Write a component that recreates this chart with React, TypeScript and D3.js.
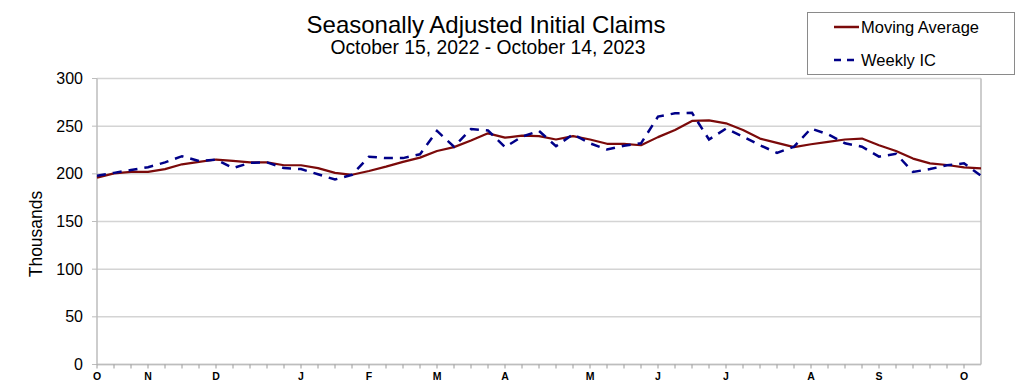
import React from "react";
import * as d3 from "d3";

const weeklyIC = [198, 201, 204, 207, 212, 218.5, 213.5, 215, 206, 211.5, 212, 206, 205, 199.5, 194, 199, 218, 216.5, 216.5, 220.5, 245, 228.5, 247, 245.5, 228, 239, 245, 229, 241.5, 232, 225.5, 229.5, 232, 260, 263.5, 264, 236, 247.5, 239, 230, 222, 228.5, 247.5, 241.5, 232, 228.5, 218, 221, 202, 205, 209, 211, 198];
const movingAvg = [196, 200.5, 202, 202, 205, 210, 212.5, 215, 213.5, 212, 212, 209, 209, 206, 201, 199, 203, 207.5, 212.5, 217, 224, 228, 235, 242.5, 238, 240, 239.5, 236, 239.5, 236, 231.5, 231.5, 230, 238.5, 246, 255.5, 256, 253, 246, 237, 232.5, 228, 231, 233.5, 236, 237, 230, 224, 216, 211, 209.25, 206.75, 205.75];
const yTicks = [0, 50, 100, 150, 200, 250, 300];
const monthLabels = [
  { week: 0, label: "O" }, { week: 3, label: "N" }, { week: 7, label: "D" },
  { week: 12, label: "J" }, { week: 16, label: "F" }, { week: 20, label: "M" },
  { week: 24, label: "A" }, { week: 29, label: "M" }, { week: 33, label: "J" },
  { week: 37, label: "J" }, { week: 42, label: "A" }, { week: 46, label: "S" },
  { week: 51, label: "O" },
];
const weekCount = 52;

export default function App() {
  const W = 1024, H = 387;
  const left = 97, right = 981, top = 78.5, bottom = 364.5;
  const x = d3.scaleLinear().domain([0, weekCount]).range([left, right]);
  const y = d3.scaleLinear().domain([0, 300]).range([bottom, top]);
  const line = d3.line<number>().x((_, i) => x(i)).y((d) => y(d));
  const font = "'Liberation Sans', Arial, sans-serif";
  const weeks = d3.range(0, weekCount + 1);
  return (
    <svg width={W} height={H} style={{ position: "absolute", left: 0, top: 0, background: "#fff" }} fontFamily={font}>
      <rect x={0} y={0} width={W} height={H} fill="#fff" />
      {yTicks.map((t) => (
        <g key={t}>
          <line x1={left} x2={right} y1={y(t)} y2={y(t)} stroke="#d4d4d4" strokeWidth={1.5} />
          <line x1={left - 5} x2={left} y1={y(t)} y2={y(t)} stroke="#bdbdbd" strokeWidth={1} />
          <text x={left - 14} y={y(t) + 5.5} textAnchor="end" fontSize={16} fill="#000">{t}</text>
        </g>
      ))}
      <line x1={left} x2={left} y1={top} y2={bottom} stroke="#bdbdbd" strokeWidth={1.5} />
      <line x1={right} x2={right} y1={top} y2={bottom} stroke="#bdbdbd" strokeWidth={1.5} />
      <line x1={left} x2={right} y1={bottom} y2={bottom} stroke="#bdbdbd" strokeWidth={1.5} />
      {weeks.slice(0, weekCount).map((w) => (
        <line key={w} x1={x(w)} x2={x(w)} y1={bottom} y2={bottom + 4} stroke="#9a9a9a" strokeWidth={1} />
      ))}
      {monthLabels.map((m, i) => (
        <text key={i} x={x(m.week)} y={bottom + 15.5} textAnchor="middle" fontSize={10.5} fontWeight="bold" fill="#000">{m.label}</text>
      ))}
      <path d={line(movingAvg) || ""} fill="none" stroke="#7b0a0a" strokeWidth={2.2} strokeLinejoin="round" />
      <path d={line(weeklyIC) || ""} fill="none" stroke="#000088" strokeWidth={2.5} strokeDasharray="9,7" />
      <text transform={`translate(42,234) rotate(-90)`} textAnchor="middle" fontSize={17.5} fill="#000">Thousands</text>
      <text x={486} y={33} textAnchor="middle" fontSize={24} fill="#000">Seasonally Adjusted Initial Claims</text>
      <text x={488} y={54} textAnchor="middle" fontSize={19.3} fill="#000">October 15, 2022 - October 14, 2023</text>
      <rect x={807.5} y={12.5} width={207} height={62} fill="#fff" stroke="#8a8a8a" strokeWidth={1} />
      <line x1={834} x2={859} y1={27} y2={27} stroke="#7b0a0a" strokeWidth={2.5} />
      <text x={861} y={32.5} fontSize={16.5} fill="#000">Moving Average</text>
      <line x1={834} x2={859} y1={60} y2={60} stroke="#000088" strokeWidth={2.5} strokeDasharray="7,6" />
      <text x={861} y={65.5} fontSize={16.5} fill="#000">Weekly IC</text>
    </svg>
  );
}
